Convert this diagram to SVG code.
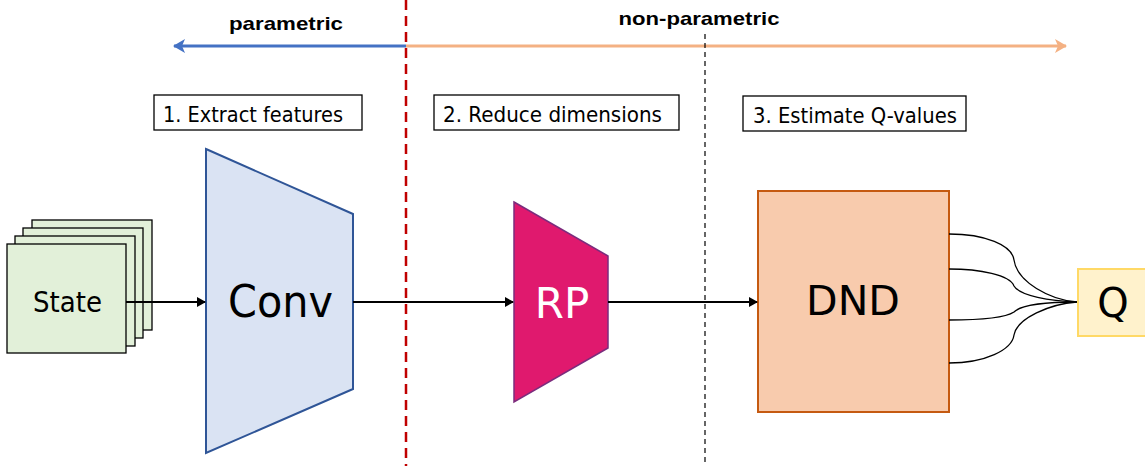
<svg xmlns="http://www.w3.org/2000/svg" width="1145" height="466" viewBox="0 0 1145 466">
<style>
.lbl{font-family:"DejaVu Sans","Liberation Sans",sans-serif;fill:#000}
.hdr{font-family:"Liberation Sans",Arial,sans-serif;font-weight:bold;font-size:19px;fill:#000}
.step{fill:#fff;stroke:#000;stroke-width:1.3}
.state{fill:#E2F0D9;stroke:#000;stroke-width:1.3}
.conn{fill:none;stroke:#000;stroke-width:2}
.curve{fill:none;stroke:#000;stroke-width:1.3}
</style>
<defs>
<marker id="ah" markerWidth="10" markerHeight="10" refX="8" refY="5" orient="auto" markerUnits="userSpaceOnUse">
<path d="M0,0 L9,5 L0,10 Z" fill="#000"/>
</marker>
<marker id="ahBlue" markerWidth="14" markerHeight="14" refX="11" refY="7" orient="auto" markerUnits="userSpaceOnUse">
<path d="M0,0 L12,7 L0,14 L3,7 Z" fill="#4472C4"/>
</marker>
<marker id="ahOrange" markerWidth="14" markerHeight="14" refX="11" refY="7" orient="auto" markerUnits="userSpaceOnUse">
<path d="M0,0 L12,7 L0,14 L3,7 Z" fill="#F4B183"/>
</marker>
</defs>
<rect width="1145" height="466" fill="#fff"/>

<g id="axis">
<line x1="406" y1="46" x2="174" y2="46" stroke="#4472C4" stroke-width="3" marker-end="url(#ahBlue)"/>
<line x1="406" y1="46" x2="1066" y2="46" stroke="#F4B183" stroke-width="3" marker-end="url(#ahOrange)"/>
<line x1="406" y1="0" x2="406" y2="466" stroke="#C00000" stroke-width="2.5" stroke-dasharray="10,6"/>
<line x1="705" y1="34" x2="705" y2="466" stroke="#000" stroke-width="1.2" stroke-dasharray="5,4"/>
<text class="hdr" x="286" y="30" text-anchor="middle" textLength="114" lengthAdjust="spacingAndGlyphs">parametric</text>
<text class="hdr" x="699" y="25" text-anchor="middle" textLength="161" lengthAdjust="spacingAndGlyphs">non-parametric</text>
</g>

<g id="step1">
<rect class="step" x="154" y="95" width="208" height="35"/>
<text class="lbl" x="163" y="121.5" font-size="22" textLength="180" lengthAdjust="spacingAndGlyphs">1. Extract features</text>
</g>
<g id="step2">
<rect class="step" x="434" y="95" width="245" height="35"/>
<text class="lbl" x="443" y="121.5" font-size="22" textLength="219" lengthAdjust="spacingAndGlyphs">2. Reduce dimensions</text>
</g>
<g id="step3">
<rect class="step" x="743" y="96" width="223" height="35"/>
<text class="lbl" x="753" y="122.5" font-size="22" textLength="204" lengthAdjust="spacingAndGlyphs">3. Estimate Q-values</text>
</g>

<g id="state">
<rect class="state" x="32" y="220" width="120" height="110"/>
<rect class="state" x="23" y="228" width="120" height="110"/>
<rect class="state" x="15" y="236" width="120" height="110"/>
<rect class="state" x="7" y="244" width="119" height="109"/>
<text class="lbl" x="67.5" y="312" font-size="29" text-anchor="middle" textLength="69" lengthAdjust="spacingAndGlyphs">State</text>
</g>

<g id="conv">
<polygon points="206,149 353,214 353,389 206,453" fill="#DAE3F3" stroke="#2F5597" stroke-width="2"/>
<text class="lbl" x="280.5" y="317" font-size="45" text-anchor="middle" textLength="105" lengthAdjust="spacingAndGlyphs">Conv</text>
</g>

<g id="rp">
<polygon points="514,202 608,256 608,348 514,402" fill="#E0196E" stroke="#7B2C7D" stroke-width="1.5"/>
<text class="lbl" x="562" y="318" font-size="42" text-anchor="middle" style="fill:#fff">RP</text>
</g>

<g id="dnd">
<rect x="758" y="191" width="191" height="221" fill="#F8CBAD" stroke="#C55A11" stroke-width="2"/>
<text class="lbl" x="853" y="315" font-size="41" text-anchor="middle">DND</text>
</g>

<g id="q">
<rect x="1078" y="269" width="72" height="67" fill="#FFF2CC" stroke="#FFD966" stroke-width="2"/>
<text class="lbl" x="1113" y="317" font-size="40" text-anchor="middle">Q</text>
</g>

<g id="connectors">
<line class="conn" x1="126" y1="302" x2="205" y2="302" marker-end="url(#ah)"/>
<line class="conn" x1="353" y1="302" x2="513" y2="302" marker-end="url(#ah)"/>
<line class="conn" x1="608" y1="302" x2="757" y2="302" marker-end="url(#ah)"/>
<path class="curve" d="M949,234 C985,234 1012,245 1014,260 C1017,282 1050,300 1077,302"/>
<path class="curve" d="M949,269 C980,269 1010,275 1014,286 C1020,296 1050,301 1077,302"/>
<path class="curve" d="M949,320 C980,320 1005,318 1014,312 C1022,304 1050,302 1077,302"/>
<path class="curve" d="M949,363 C985,363 1012,350 1014,335 C1017,318 1050,304 1077,302"/>
</g>
</svg>
